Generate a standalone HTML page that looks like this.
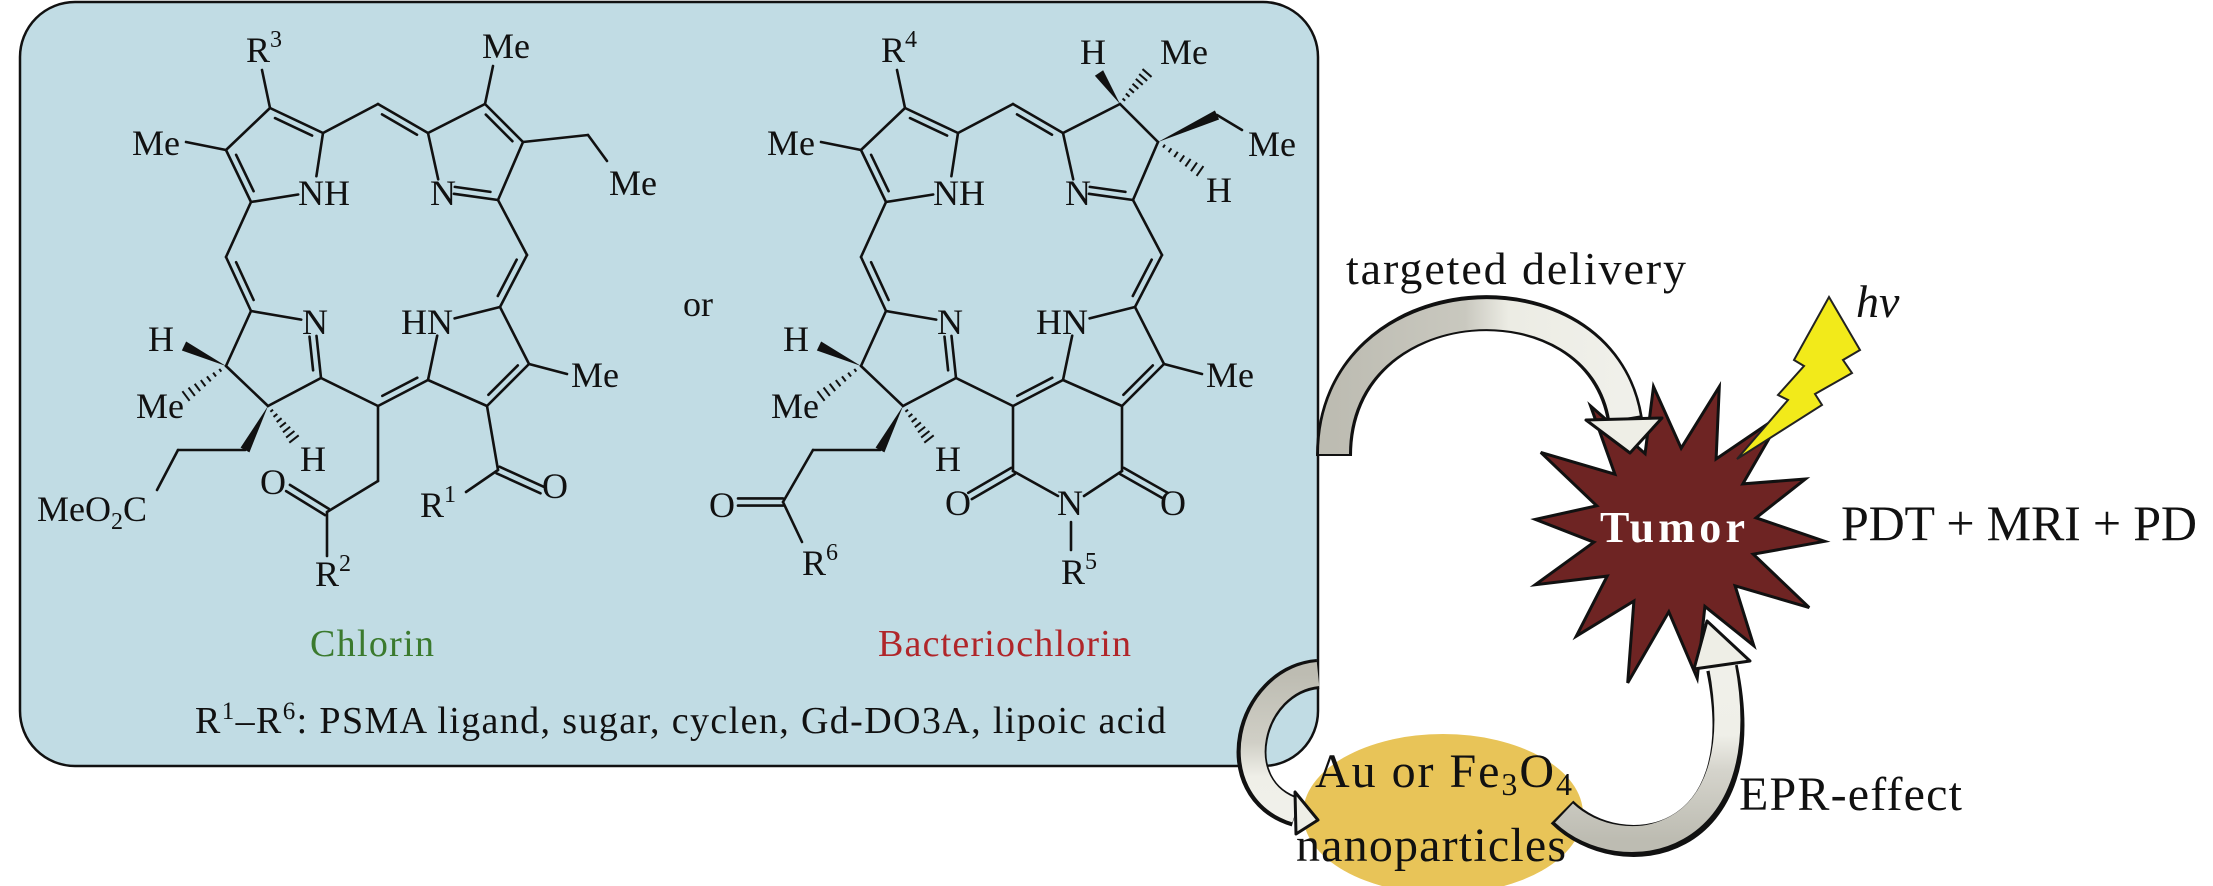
<!DOCTYPE html>
<html><head><meta charset="utf-8"><style>
html,body{margin:0;padding:0;background:#fff;}
svg{display:block;}
text{font-family:"Liberation Serif",serif;fill:#111;}
</style></head><body>
<svg id="s" width="2213" height="886" viewBox="0 0 2213 886" xmlns="http://www.w3.org/2000/svg">
<defs>
<linearGradient id="gTop" x1="0" y1="0" x2="1" y2="0"><stop offset="0" stop-color="#bdbcb2"/><stop offset="0.45" stop-color="#c9c8bf"/><stop offset="0.6" stop-color="#ecece4"/><stop offset="1" stop-color="#f0f0ea"/></linearGradient>
<linearGradient id="gEpr" x1="0" y1="1" x2="0" y2="0"><stop offset="0" stop-color="#bdbcb2"/><stop offset="0.4" stop-color="#d5d4cc"/><stop offset="0.6" stop-color="#efefe8"/><stop offset="1" stop-color="#f0f0ea"/></linearGradient>
<linearGradient id="gLeft" x1="0" y1="0" x2="0" y2="1"><stop offset="0" stop-color="#bdbcb2"/><stop offset="0.5" stop-color="#d0cfc6"/><stop offset="0.75" stop-color="#efefe8"/><stop offset="1" stop-color="#f0f0ea"/></linearGradient>
</defs>
<rect x="20" y="2" width="1298" height="764" rx="55" ry="55" fill="#c1dce4" stroke="#111" stroke-width="2.5"/>
<g id="mol" stroke="#111" stroke-width="2.6" fill="none" stroke-linecap="round"></g>
<g id="molf" fill="#111"></g>

<g font-size="36">
<text x="246" y="62">R<tspan font-size="24" dy="-15">3</tspan></text>
<text x="482" y="58">Me</text>
<text x="132" y="155">Me</text>
<text x="298" y="205">NH</text>
<text x="430" y="205">N</text>
<text x="609" y="195">Me</text>
<text x="302" y="334">N</text>
<text x="401" y="334">HN</text>
<text x="571" y="387">Me</text>
<text x="148" y="351">H</text>
<text x="136" y="418">Me</text>
<text x="300" y="471">H</text>
<text x="37" y="521">MeO<tspan font-size="24" dy="8">2</tspan><tspan dy="-8">C</tspan></text>
<text x="260" y="494">O</text>
<text x="315" y="586">R<tspan font-size="24" dy="-15">2</tspan></text>
<text x="420" y="517">R<tspan font-size="24" dy="-15">1</tspan></text>
<text x="542" y="498">O</text>
<text x="683" y="316">or</text>
<text x="881" y="62">R<tspan font-size="24" dy="-15">4</tspan></text>
<text x="1080" y="64">H</text>
<text x="1160" y="64">Me</text>
<text x="767" y="155">Me</text>
<text x="933" y="205">NH</text>
<text x="1065" y="205">N</text>
<text x="1248" y="156">Me</text>
<text x="1206" y="202">H</text>
<text x="937" y="334">N</text>
<text x="1036" y="334">HN</text>
<text x="1206" y="387">Me</text>
<text x="783" y="351">H</text>
<text x="771" y="418">Me</text>
<text x="935" y="471">H</text>
<text x="709" y="517">O</text>
<text x="802" y="575">R<tspan font-size="24" dy="-15">6</tspan></text>
<text x="945" y="515">O</text>
<text x="1057" y="515">N</text>
<text x="1160" y="515">O</text>
<text x="1061" y="584">R<tspan font-size="24" dy="-15">5</tspan></text>
</g>
<text x="310" y="656" font-size="38" style="fill:#3b7a2e" textLength="124">Chlorin</text>
<text x="878" y="656" font-size="38" style="fill:#b0262a" textLength="253">Bacteriochlorin</text>
<text x="195" y="733" font-size="38" textLength="971">R<tspan font-size="25" dy="-14">1</tspan><tspan dy="14">–R</tspan><tspan font-size="25" dy="-14">6</tspan><tspan dy="14">: PSMA ligand, sugar, cyclen, Gd-DO3A, lipoic acid</tspan></text>

<ellipse cx="1443" cy="814" rx="140" ry="80" fill="#e8c458"/>
<polygon id="star" fill="#6e2423" stroke="#111" stroke-width="3" stroke-linejoin="miter"></polygon>
<polygon points="1829,297 1860,350 1843,360 1852,373 1815,394 1822,405 1737,459 1788,400 1778,395 1804,366 1794,360" fill="#f2ea1a" stroke="#222" stroke-width="2"/>

<path d="M1334,456 C1334,280 1600,265 1625,420" fill="none" stroke="#111" stroke-width="36"/>
<path d="M1334,454 C1334,282 1600,267 1625,418" fill="none" stroke="url(#gTop)" stroke-width="30"/>
<polygon points="1586,420 1662,418 1630,453" fill="#eeeee6" stroke="#111" stroke-width="3" stroke-linejoin="round"/>
<path d="M1562,812 C1620,870 1760,850 1722,668" fill="none" stroke="#111" stroke-width="32"/>
<path d="M1564,813 C1620,866 1756,848 1722,666" fill="none" stroke="url(#gEpr)" stroke-width="26"/>
<polygon points="1707,621 1694,669 1750,661" fill="#eeeee6" stroke="#111" stroke-width="3" stroke-linejoin="round"/>
<path d="M1318,674 C1248,680 1222,790 1296,812" fill="none" stroke="#111" stroke-width="30"/>
<path d="M1318,674 C1249,681 1224,788 1296,811" fill="none" stroke="url(#gLeft)" stroke-width="24"/>
<polygon points="1318,820 1295,792 1296,834" fill="#eeeee6" stroke="#111" stroke-width="3" stroke-linejoin="round"/>

<text x="1346" y="284" font-size="46" textLength="340">targeted delivery</text>
<text x="1856" y="317" font-size="46" font-style="italic">hν</text>
<text x="1600" y="542" font-size="44" font-weight="bold" style="fill:#fff" textLength="145">Tumor</text>
<text x="1841" y="540" font-size="50" textLength="356">PDT + MRI + PD</text>
<text x="1315" y="787" font-size="48" textLength="257">Au or Fe<tspan font-size="32" dy="8">3</tspan><tspan dy="-8">O</tspan><tspan font-size="32" dy="8">4</tspan></text>
<text x="1296" y="861" font-size="48" textLength="270">nanoparticles</text>
<text x="1739" y="810" font-size="48" textLength="223">EPR-effect</text>
</svg>
<script>
(function(){
var g=document.getElementById('mol'),gf=document.getElementById('molf'),h='',hf='';
function ln(a,b){h+='<line x1="'+a[0].toFixed(1)+'" y1="'+a[1].toFixed(1)+'" x2="'+b[0].toFixed(1)+'" y2="'+b[1].toFixed(1)+'"/>';}
function sh(a,b,sa,sb){var dx=b[0]-a[0],dy=b[1]-a[1],l=Math.hypot(dx,dy),ux=dx/l,uy=dy/l;return [[a[0]+ux*sa,a[1]+uy*sa],[b[0]-ux*sb,b[1]-uy*sb]];}
function s(a,b,sa,sb){var p=sh(a,b,sa||0,sb||0);ln(p[0],p[1]);}
function d(a,b,c,sa,sb){var p=sh(a,b,sa||0,sb||0);ln(p[0],p[1]);
 var dx=b[0]-a[0],dy=b[1]-a[1],l=Math.hypot(dx,dy),nx=-dy/l,ny=dx/l;
 var mx=(a[0]+b[0])/2,my=(a[1]+b[1])/2;if((c[0]-mx)*nx+(c[1]-my)*ny<0){nx=-nx;ny=-ny;}
 var q=sh(a,b,Math.max(sa||0,l*0.15),Math.max(sb||0,l*0.15));
 ln([q[0][0]+nx*7,q[0][1]+ny*7],[q[1][0]+nx*7,q[1][1]+ny*7]);}
function dx2(a,b,sb){var p=sh(a,b,0,sb||0);var dx=b[0]-a[0],dy=b[1]-a[1],l=Math.hypot(dx,dy),nx=-dy/l*3.6,ny=dx/l*3.6;
 ln([p[0][0]+nx,p[0][1]+ny],[p[1][0]+nx,p[1][1]+ny]);ln([p[0][0]-nx,p[0][1]-ny],[p[1][0]-nx,p[1][1]-ny]);}
function wedge(a,b){var dx=b[0]-a[0],dy=b[1]-a[1],l=Math.hypot(dx,dy),nx=-dy/l*5,ny=dx/l*5;
 hf+='<polygon points="'+a[0]+','+a[1]+' '+(b[0]+nx)+','+(b[1]+ny)+' '+(b[0]-nx)+','+(b[1]-ny)+'"/>';}
function hash(a,b){var dx=b[0]-a[0],dy=b[1]-a[1],l=Math.hypot(dx,dy),nx=-dy/l,ny=dx/l,n=7;
 for(var i=1;i<=n;i++){var t=i/n,w=1+5*t,x=a[0]+dx*t,y=a[1]+dy*t;
  hf+='<line x1="'+(x+nx*w)+'" y1="'+(y+ny*w)+'" x2="'+(x-nx*w)+'" y2="'+(y-ny*w)+'" stroke="#111" stroke-width="2"/>';}}
function P(p,o){return [p[0]+o,p[1]];}
function core(o,bact){
 var Cb1=P([226,150],o),Cb2=P([270,108],o),Ca2=P([323,133],o),NA=P([314,192],o),Ca1=P([251,202],o),
 mt=P([378,104],o),Ca3=P([428,133],o),Cb3=P([485,104],o),Cb4=P([523,142],o),Ca4=P([498,200],o),NB=P([441,192],o),
 mr=P([527,255],o),Ca5=P([500,307],o),NC=P([440,322],o),Ca6=P([428,380],o),Cb6=P([487,406],o),Cb5=P([529,364],o),
 mb=P([378,406],o),Ca7=P([321,378],o),ND=P([315,322],o),Cb7=P([268,406],o),Cb8=P([226,366],o),Ca8=P([251,311],o),ml=P([226,257],o);
 var cA=P([277,158],o),cB=P([475,154],o),cC=P([475,356],o),cD=P([276,357],o),cM=P([378,255],o);
 s(Cb1,Cb2);d(Cb2,Ca2,cA);s(Ca2,NA,0,16);s(NA,Ca1,16,0);d(Ca1,Cb1,cA);
 s(Ca2,mt);d(mt,Ca3,cM);s(Ca1,ml);d(ml,Ca8,cM);
 s(Ca3,Cb3);if(bact)s(Cb3,Cb4);else d(Cb3,Cb4,cB);s(Cb4,Ca4);d(Ca4,NB,cB,0,13);s(NB,Ca3,13,0);
 s(Ca4,mr);d(mr,Ca5,cM);
 s(Ca5,NC,0,15);s(NC,Ca6,14,0);d(Ca6,mb,cM);s(Ca6,Cb6);d(Cb6,Cb5,cC);s(Cb5,Ca5);
 s(Ca8,ND,0,14);d(ND,Ca7,cD,14,0);s(Ca7,Cb7);s(Cb7,Cb8);s(Cb8,Ca8);s(Ca7,mb);
 s(Cb2,P([262,70],o));s(Cb1,P([186,142],o));s(Cb5,P([567,374],o));
 wedge(Cb8,P([184,346],o));hash(Cb8,P([186,396],o));
 wedge(Cb7,P([245,450],o));hash(Cb7,P([294,439],o));
 return {Cb3:Cb3,Cb4:Cb4,Cb6:Cb6,mb:mb};
}
var A=core(0,false);
s(A.Cb3,[493,66]);s(A.Cb4,[588,135]);s([588,135],[607,161]);
s([245,450],[178,450]);s([178,450],[157,490]);
s(A.mb,[378,481]);s([378,481],[327,512]);dx2([327,512],[288,488]);s([327,512],[327,556]);
s(A.Cb6,[498,470]);dx2([498,470],[542,490]);s([498,470],[466,492]);
var o=635,B=core(o,true);
wedge(B.Cb3,[1099,73]);hash(B.Cb3,[1147,73]);
wedge(B.Cb4,[1217,115]);s([1217,115],[1242,130]);hash(B.Cb4,[1200,171]);
s([880,450],[813,450]);s([813,450],[783,502]);dx2([783,502],[738,502]);s([783,502],[802,542]);
s(B.mb,[1013,471]);dx2([1013,471],[970,496]);s([1013,471],[1058,496]);
s(B.Cb6,[1122,471]);dx2([1122,471],[1166,496]);s([1122,471],[1084,496]);
s([1071,522],[1071,550]);
g.innerHTML=h;gf.innerHTML=hf;
var cx=1675,cy=530,n=14,pts=[],ro=[150,160,140,150,155,140,150,160,145,150,140,155,150,145];
for(var i=0;i<2*n;i++){var a=-Math.PI/2+0.3+i*Math.PI/n,r=(i%2==0)?ro[i/2]:82;
 pts.push((cx+Math.cos(a)*r).toFixed(1)+','+(cy+Math.sin(a)*r).toFixed(1));}
document.getElementById('star').setAttribute('points',pts.join(' '));
})();
</script>
</body></html>
